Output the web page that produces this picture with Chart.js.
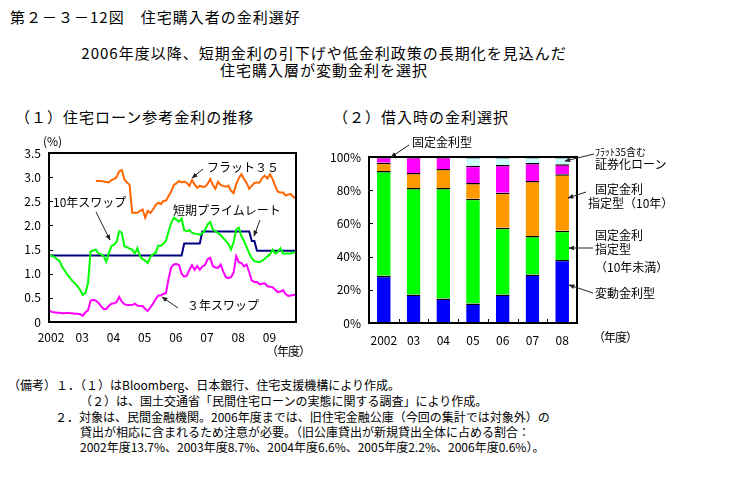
<!DOCTYPE html>
<html lang="ja">
<head>
<meta charset="utf-8">
<script src="https://cdn.jsdelivr.net/npm/chart.js@4.4.1/dist/chart.umd.min.js"></script>
<style>
  body { margin: 0; background: #fff; }
  #page { position: relative; width: 731px; height: 479px; overflow: hidden;
          font-family: 'Noto Sans CJK JP', sans-serif; color: #000; }
  .t { position: absolute; white-space: nowrap; line-height: 1; font-size: 12px; }
  .big { font-size: 15px; letter-spacing: 1px; }
  .c { transform: translateX(-50%); }
  canvas { position: absolute; }
  svg { position: absolute; left: 0; top: 0; }
</style>
</head>
<body>
<div id="page">
  <div class="t big" style="left:10px;top:9px">第２－３－12図　住宅購入者の金利選好</div>
  <div class="t big c" style="left:324px;top:45px">2006年度以降、短期金利の引下げや低金利政策の長期化を見込んだ</div>
  <div class="t big c" style="left:324px;top:62px">住宅購入層が変動金利を選択</div>
  <div class="t big" style="left:15px;top:109px">（１）住宅ローン参考金利の推移</div>
  <div class="t big" style="left:333px;top:109px">（２）借入時の金利選択</div>

  <canvas id="rates" width="310" height="230" style="left:0;top:135px"></canvas>
  <canvas id="choice" width="270" height="230" style="left:320px;top:135px"></canvas>

  <!-- left chart notes -->
  <div class="t" style="left:43px;top:135px">(%)</div>
  <div class="t" style="left:207px;top:161px">フラット３５</div>
  <div class="t" style="left:53px;top:196px">10年スワップ</div>
  <div class="t" style="left:173px;top:204px">短期プライムレート</div>
  <div class="t" style="left:187px;top:299px">３年スワップ</div>
  <div class="t" style="left:266px;top:345px;letter-spacing:-1px">（年度）</div>

  <!-- right chart notes -->
  <div class="t" style="left:412px;top:136px">固定金利型</div>
  <div class="t" style="left:595px;top:147px;font-size:10px">ﾌﾗｯﾄ35含む</div>
  <div class="t" style="left:595px;top:158px">証券化ローン</div>
  <div class="t" style="left:595px;top:183px">固定金利</div>
  <div class="t" style="left:588px;top:197px">指定型（10年）</div>
  <div class="t" style="left:595px;top:229px">固定金利</div>
  <div class="t" style="left:595px;top:243px">指定型</div>
  <div class="t" style="left:595px;top:261px">（10年未満）</div>
  <div class="t" style="left:595px;top:287px">変動金利型</div>
  <div class="t" style="left:593px;top:331px;letter-spacing:-1px">（年度）</div>

  <!-- notes -->
  <div class="t" style="left:8px;top:379px">（備考）１．（１）はBloomberg、日本銀行、住宅支援機構により作成。</div>
  <div class="t" style="left:80px;top:395px">（２）は、国土交通省「民間住宅ローンの実態に関する調査」により作成。</div>
  <div class="t" style="left:55px;top:411px">２．対象は、民間金融機関。2006年度までは、旧住宅金融公庫（今回の集計では対象外）の</div>
  <div class="t" style="left:80px;top:426px">貸出が相応に含まれるため注意が必要。（旧公庫貸出が新規貸出全体に占める割合：</div>
  <div class="t" style="left:80px;top:441px">2002年度13.7%、2003年度8.7%、2004年度6.6%、2005年度2.2%、2006年度0.6%）。</div>

  <svg width="731" height="479">
    <defs>
      <marker id="ah" viewBox="0 0 10 10" refX="9" refY="5" markerWidth="6" markerHeight="6" orient="auto">
        <path d="M0,1 L10,5 L0,9 z" fill="#222"/>
      </marker>
    </defs>
    <g stroke="#222" stroke-width="1" marker-end="url(#ah)">
      <line x1="203" y1="169" x2="192" y2="178"/>
      <line x1="96" y1="212" x2="110" y2="240"/>
      <line x1="260" y1="220" x2="254" y2="236"/>
      <line x1="178" y1="308" x2="162" y2="297"/>
      <line x1="409" y1="145" x2="391" y2="157"/>
      <line x1="594" y1="154" x2="565" y2="161"/>
      <line x1="586" y1="192" x2="568" y2="198"/>
      <line x1="593" y1="248" x2="569" y2="248"/>
      <line x1="593" y1="293" x2="569" y2="285"/>
    </g>
  </svg>
</div>

<script>
// ---- (1) housing loan reference rates, monthly from FY2002 ----
const yearLabels = ['2002', '03', '04', '05', '06', '07', '08', '09'];

const flat35 = [
  null, null, null, null, null, null, null, null, null, null, null, null,
  null, null, null, null, null, null, 2.92, 2.92, 2.92, 2.91, 2.90, 2.89,
  2.94, 2.96, 3.00, 3.12, 3.15, 2.95, 2.89, 2.84, 2.26, 2.26, 2.26, 2.30,
  2.33, 2.16, 2.30, 2.26, 2.33, 2.42, 2.47, 2.44, 2.51, 2.51, 2.61, 2.70,
  2.84, 2.87, 2.92, 2.89, 2.91, 2.88, 2.82, 2.94, 2.85, 2.78, 2.82, 2.80,
  2.80, 2.86, 2.96, 2.84, 2.76, 2.90, 2.84, 2.82, 2.80, 2.82, 2.72, 2.67,
  2.85, 2.98, 3.06, 2.96, 2.88, 2.76, 2.82, 2.88, 2.89, 2.89, 2.98, 3.03,
  2.97, 3.06, 2.96, 2.82, 2.70, 2.68, 2.68, 2.62, 2.64, 2.65, 2.59, 2.56
];

const primeRate = [
  1.375, 1.375, 1.375, 1.375, 1.375, 1.375, 1.375, 1.375, 1.375, 1.375, 1.375, 1.375,
  1.375, 1.375, 1.375, 1.375, 1.375, 1.375, 1.375, 1.375, 1.375, 1.375, 1.375, 1.375,
  1.375, 1.375, 1.375, 1.375, 1.375, 1.375, 1.375, 1.375, 1.375, 1.375, 1.375, 1.375,
  1.375, 1.375, 1.375, 1.375, 1.375, 1.375, 1.375, 1.375, 1.375, 1.375, 1.375, 1.375,
  1.375, 1.375, 1.375, 1.375, 1.625, 1.625, 1.625, 1.625, 1.625, 1.625, 1.625, 1.875,
  1.875, 1.875, 1.875, 1.875, 1.875, 1.875, 1.875, 1.875, 1.875, 1.875, 1.875, 1.875,
  1.875, 1.875, 1.875, 1.875, 1.875, 1.875, 1.675, 1.675, 1.475, 1.475, 1.475, 1.475,
  1.475, 1.475, 1.475, 1.475, 1.475, 1.475, 1.475, 1.475, 1.475, 1.475, 1.475, 1.475
];

const swap10 = [
  1.38, 1.37, 1.35, 1.30, 1.27, 1.15, 1.07, 0.98, 0.92, 0.85, 0.80, 0.74,
  0.66, 0.56, 0.60, 0.80, 1.46, 1.48, 1.50, 1.42, 1.40, 1.37, 1.25, 1.42,
  1.57, 1.60, 1.66, 1.88, 1.85, 1.57, 1.55, 1.52, 1.50, 1.42, 1.53, 1.36,
  1.30, 1.27, 1.22, 1.35, 1.40, 1.43, 1.58, 1.58, 1.62, 1.68, 1.88, 2.05,
  2.16, 2.12, 2.08, 2.14, 1.90, 1.88, 1.90, 1.85, 1.83, 1.82, 1.81, 1.84,
  1.90, 2.02, 2.07, 1.92, 1.88, 1.84, 1.80, 1.74, 1.68, 1.62, 1.50, 1.65,
  1.92, 1.95, 1.78, 1.68, 1.55, 1.42, 1.32, 1.26, 1.25, 1.24, 1.27, 1.31,
  1.36, 1.40, 1.50, 1.42, 1.45, 1.53, 1.42, 1.42, 1.42, 1.42, 1.44, 1.45
];

const swap3 = [
  0.24, 0.21, 0.20, 0.19, 0.19, 0.18, 0.18, 0.19, 0.18, 0.18, 0.17, 0.17,
  0.16, 0.13, 0.20, 0.24, 0.44, 0.46, 0.44, 0.40, 0.33, 0.27, 0.27, 0.33,
  0.38, 0.39, 0.41, 0.52, 0.42, 0.37, 0.35, 0.35, 0.35, 0.38, 0.34, 0.33,
  0.33, 0.27, 0.23, 0.30, 0.38, 0.47, 0.55, 0.55, 0.58, 0.60, 0.90, 1.13,
  1.19, 1.20, 1.18, 1.00, 0.94, 0.96, 1.08, 1.18, 1.08, 1.16, 1.08, 1.15,
  1.18, 1.30, 1.33, 1.16, 1.13, 1.12, 1.19, 1.05, 0.93, 0.91, 0.93, 1.02,
  1.36, 1.24, 1.22, 1.15, 1.19, 1.03, 0.86, 0.83, 0.83, 0.78, 0.79, 0.80,
  0.74, 0.73, 0.72, 0.67, 0.62, 0.63, 0.66, 0.58, 0.54, 0.55, 0.56, 0.56
];

// ---- (2) rate type chosen at borrowing (%) ----
const barYears = ['2002', '03', '04', '05', '06', '07', '08'];
const variableRate = [28.5, 17.2, 14.8, 11.8, 17.2, 29.2, 38.0];
const fixedUnder10 = [63.0, 64.2, 66.6, 63.0, 40.2, 23.2, 17.6];
const fixed10 = [5.0, 9.0, 11.4, 9.6, 21.0, 33.2, 34.0];
const fixedAll = [3.5, 9.6, 7.2, 10.4, 16.8, 10.8, 6.0];
const securitized = [0, 0, 0, 5.2, 4.8, 3.6, 4.4];

const monthLabels = [];
yearLabels.forEach(y => { for (let m = 0; m < 12; m++) monthLabels.push(y + '-' + (m + 1)); });

const FONT = { family: "'Noto Sans CJK JP', sans-serif", size: 12 };

// frame + inward tick marks
const framePlugin = {
  id: 'frame',
  afterDraw(chart, args, opts) {
    const { ctx, chartArea: a, scales } = chart;
    ctx.save();
    ctx.strokeStyle = '#000';
    ctx.lineWidth = 1;
    scales.y.ticks.forEach(t => {
      const y = Math.round(scales.y.getPixelForValue(t.value)) + 0.5;
      ctx.beginPath(); ctx.moveTo(a.left, y); ctx.lineTo(a.left + 4, y); ctx.stroke();
    });
    if (opts.catTicks) {
      const n = chart.data.labels.length;
      for (let i = 0; i < n - 1; i++) {
        const x = Math.round((scales.x.getPixelForValue(i) + scales.x.getPixelForValue(i + 1)) / 2) + 0.5;
        ctx.beginPath(); ctx.moveTo(x, a.bottom); ctx.lineTo(x, a.bottom - 4); ctx.stroke();
      }
    }
    ctx.lineWidth = 2;
    ctx.strokeRect(a.left, a.top, a.right - a.left, a.bottom - a.top);
    ctx.restore();
  }
};

function lineSet(data, color) {
  return { data: data, borderColor: color, borderWidth: 2, pointRadius: 0, tension: 0, fill: false, spanGaps: false };
}

new Chart(document.getElementById('rates'), {
  type: 'line',
  data: {
    labels: monthLabels,
    datasets: [
      lineSet(swap3, '#FF00FF'),
      lineSet(swap10, '#00FF00'),
      lineSet(primeRate, '#000080'),
      lineSet(flat35, '#FF6600')
    ]
  },
  options: {
    responsive: false,
    animation: false,
    events: [],
    layout: { padding: { top: 18, right: 14, left: 0, bottom: 0 } },
    plugins: { legend: { display: false }, tooltip: { enabled: false }, frame: {} },
    scales: {
      x: {
        offset: false,
        grid: { display: false, drawTicks: false },
        border: { display: false },
        ticks: {
          autoSkip: false, maxRotation: 0, minRotation: 0, padding: 8, labelOffset: 2,
          color: '#000', font: FONT,
          callback: (v, i) => (i % 12 === 0 ? yearLabels[i / 12] : null)
        },
        afterFit: s => { s.height = 43; }
      },
      y: {
        min: 0, max: 3.5,
        grid: { display: false, drawTicks: false },
        border: { display: false },
        ticks: { stepSize: 0.5, padding: 8, color: '#000', font: FONT },
        afterFit: s => { s.width = 49; }
      }
    }
  },
  plugins: [framePlugin]
});

function barSet(data, color) {
  return {
    data: data, backgroundColor: color, borderColor: '#000',
    borderWidth: { top: 1.5, right: 0, bottom: 0, left: 0 }, borderSkipped: false,
    barPercentage: 0.46, categoryPercentage: 1
  };
}

new Chart(document.getElementById('choice'), {
  type: 'bar',
  data: {
    labels: barYears,
    datasets: [
      barSet(variableRate, '#0000FF'),
      barSet(fixedUnder10, '#00FF00'),
      barSet(fixed10, '#FF9900'),
      barSet(fixedAll, '#FF00FF'),
      barSet(securitized, '#CCFFFF')
    ]
  },
  options: {
    responsive: false,
    animation: false,
    events: [],
    layout: { padding: { top: 22, right: 13, left: 0, bottom: 0 } },
    plugins: { legend: { display: false }, tooltip: { enabled: false }, frame: { catTicks: true } },
    scales: {
      x: {
        stacked: true,
        grid: { display: false, drawTicks: false },
        border: { display: false },
        ticks: { autoSkip: false, maxRotation: 0, minRotation: 0, padding: 10, color: '#000', font: FONT },
        afterFit: s => { s.height = 42; }
      },
      y: {
        stacked: true, min: 0, max: 100,
        grid: { display: false, drawTicks: false },
        border: { display: false },
        ticks: { stepSize: 20, padding: 8, color: '#000', font: FONT, callback: v => v + '%' },
        afterFit: s => { s.width = 49; }
      }
    }
  },
  plugins: [framePlugin]
});
</script>
</body>
</html>
